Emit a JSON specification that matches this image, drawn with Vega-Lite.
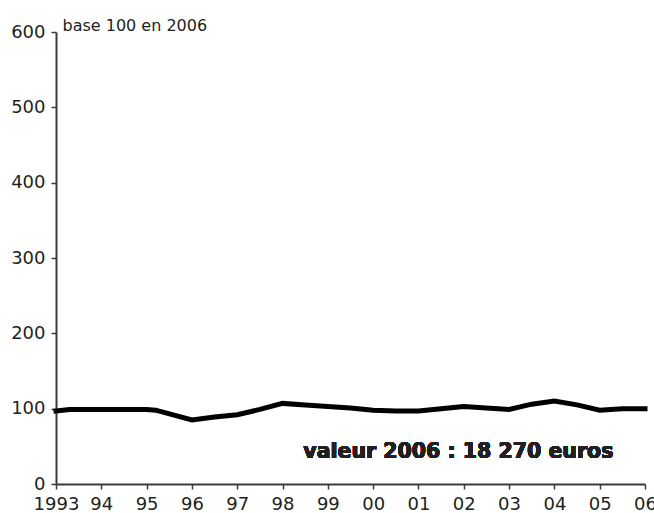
{
  "$schema": "https://vega.github.io/schema/vega-lite/v6.json",
  "autosize": "none",
  "width": 589,
  "height": 452,
  "padding": {"left": 56, "top": 32, "right": 9, "bottom": 29},
  "background": "white",
  "config": {
    "view": {"stroke": null},
    "font": "DejaVu Sans",
    "axis": {
      "grid": false,
      "domainColor": "#3a3a3a",
      "domainWidth": 2,
      "tickColor": "#3a3a3a",
      "tickWidth": 1.5,
      "tickSize": 5,
      "labelFont": "DejaVu Sans",
      "labelFontSize": 18,
      "labelColor": "#231f20"
    }
  },
  "data": {
    "values": [
      {"year": 1993.0, "value": 97},
      {"year": 1993.3, "value": 99},
      {"year": 1994.0, "value": 99},
      {"year": 1995.0, "value": 99},
      {"year": 1995.2, "value": 98},
      {"year": 1996.0, "value": 85},
      {"year": 1996.5, "value": 89},
      {"year": 1997.0, "value": 92},
      {"year": 1997.5, "value": 99},
      {"year": 1998.0, "value": 107},
      {"year": 1998.5, "value": 105},
      {"year": 1999.0, "value": 103},
      {"year": 1999.5, "value": 101},
      {"year": 2000.0, "value": 98},
      {"year": 2000.5, "value": 97},
      {"year": 2001.0, "value": 97},
      {"year": 2001.5, "value": 100},
      {"year": 2002.0, "value": 103},
      {"year": 2002.5, "value": 101},
      {"year": 2003.0, "value": 99},
      {"year": 2003.5, "value": 106},
      {"year": 2004.0, "value": 110},
      {"year": 2004.5, "value": 105},
      {"year": 2005.0, "value": 98},
      {"year": 2005.5, "value": 100},
      {"year": 2006.0, "value": 100}
    ]
  },
  "layer": [
    {
      "mark": {"type": "line", "color": "black", "strokeWidth": 5, "strokeJoin": "miter", "strokeCap": "square"},
      "encoding": {
        "x": {
          "field": "year",
          "type": "quantitative",
          "scale": {"domain": [1993, 2006], "nice": false, "zero": false},
          "axis": {
            "title": null,
            "values": [1993, 1994, 1995, 1996, 1997, 1998, 1999, 2000, 2001, 2002, 2003, 2004, 2005, 2006],
            "labelExpr": "datum.value == 1993 ? '1993' : substring(toString(datum.value), 2)",
            "labelPadding": 6,
            "labelFlush": false,
            "labelOverlap": false
          }
        },
        "y": {
          "field": "value",
          "type": "quantitative",
          "scale": {"domain": [0, 600], "nice": false},
          "axis": {
            "values": [0, 100, 200, 300, 400, 500, 600],
            "title": "base 100 en 2006",
            "titleAngle": 0,
            "titleAlign": "left",
            "titleBaseline": "alphabetic",
            "titleX": 6,
            "titleY": -2,
            "titleFont": "DejaVu Sans",
            "titleFontSize": 16,
            "titleFontWeight": "normal",
            "titleColor": "#231f20",
            "labelPadding": 6
          }
        }
      }
    },
    {
      "mark": {"type": "text", "text": "valeur 2006 : 18 270 euros", "fontWeight": "bold", "fontSize": 20.5, "font": "DejaVu Sans", "color": "#231f20", "align": "center", "baseline": "alphabetic"},
      "encoding": {
        "x": {"datum": 2001.88, "type": "quantitative"},
        "y": {"datum": 34, "type": "quantitative"}
      }
    }
  ]
}
